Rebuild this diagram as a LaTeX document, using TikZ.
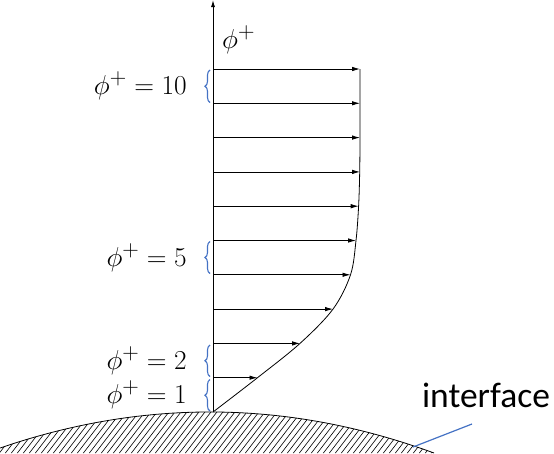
\documentclass[tikz,border=0pt]{standalone}
\usepackage{graphicx}
\usepackage{fontspec}
\newfontfamily\carlito{Carlito}
\usetikzlibrary{arrows.meta,decorations.pathreplacing}
\definecolor{obl}{RGB}{68,114,196}
\newcommand{\bigmath}[1]{\scalebox{1.1}{\fontsize{24.88}{30}\selectfont$#1$}}
\begin{document}
\begin{tikzpicture}[x=1pt,y=-1pt,
  vel/.style={-{Latex[length=8pt,width=4.5pt]}, line width=0.8pt},
  axisline/.style={-{Latex[length=7pt,width=4pt]}, line width=0.9pt},
  brc/.style={draw=obl, line width=1.1pt, decorate, decoration={brace, amplitude=5pt}},
  lbl/.style={anchor=east, inner sep=0pt},
  hatch/.style={line width=0.6pt}]
\useasboundingbox (0,0) rectangle (554,453);

% ground
\begin{scope}
\clip (-14,453) .. controls (135.3,398.3) and (284.7,398.3) .. (434,453) -- cycle;
\foreach \i in {-90,-84,...,470} \draw[hatch] (\i,460) -- ++(40,-52);
\end{scope}
\draw[line width=0.8pt] (-14,453) .. controls (135.3,398.3) and (284.7,398.3) .. (434,453);

% axis
\coordinate (a0) at (213,412);
\coordinate (atop) at (213,0);
\draw[axisline] (a0) -- (atop);

% arrows
\foreach \k/\y/\x in {1/69/360,2/103.3/360,3/137.6/360,4/171.9/360,5/206.2/358.6,6/240.5/356,7/274.8/350.5,8/309.1/333,9/343.4/300,10/377.7/257.5}{
  \coordinate (s\k) at (213,\y);
  \coordinate (t\k) at (\x,\y);
  \draw[vel] (s\k) -- (t\k);
}

% profile
\draw[line width=0.8pt] plot[smooth, tension=0.55] coordinates {(213,412) (257.5,377.7) (300,343.4) (333,309.1) (350.5,274.8) (356,240.5) (358.6,206.2) (359.7,171.9) (360,137.6) (360,103.3) (360,69)};

% braces
\draw[brc] (210,102.5) -- (210,70);
\draw[brc] (210,273.5) -- (210,241.5);
\draw[brc] (210,376.5) -- (210,345);
\draw[brc] (210,411) -- (210,379.5);

% labels
\node[lbl] (l10) at (187,86) {\bigmath{\phi^+ = 10}};
\node[lbl] (l5) at (187,257.5) {\bigmath{\phi^+ = 5}};
\node[lbl] (l2) at (187,360.5) {\bigmath{\phi^+ = 2}};
\node[lbl] (l1) at (187,395) {\bigmath{\phi^+ = 1}};
\node[anchor=west, inner sep=0pt] (ax) at (222,40) {\bigmath{\phi^+}};

% interface
\node[font=\carlito\fontsize{35.5}{42}\selectfont, inner sep=0pt] (iface) at (486,395) {interface};
\coordinate (lp) at (472,424);
\coordinate (gp) at (413,447);
\draw[obl, line width=1.2pt] (lp) -- (gp);
\end{tikzpicture}
\end{document}
